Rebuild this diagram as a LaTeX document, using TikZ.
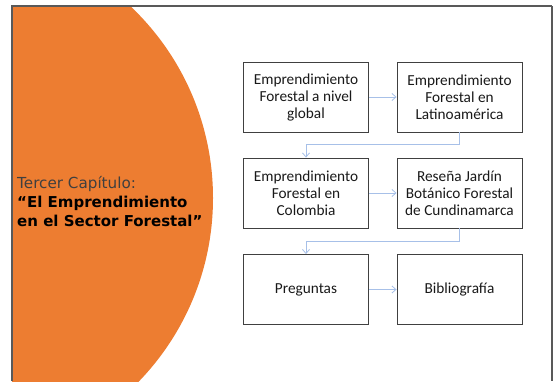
\documentclass[tikz,border=0pt]{standalone}
\usepackage{fontspec}
\setmainfont{Carlito}
\newfontfamily\titlefont{DejaVu Sans}
\usetikzlibrary{arrows.meta}
\definecolor{orng}{HTML}{ED7D31}
\definecolor{frm}{HTML}{595959}
\definecolor{arr}{HTML}{A7C0E8}
\definecolor{ttl}{HTML}{3F3F3F}
\tikzset{
  box/.style={draw=black!75, line width=0.9pt, minimum width=125pt, minimum height=70pt, align=center, inner sep=0pt, font=\fontsize{15.3}{17}\selectfont, text=black!90},
  conn/.style={draw=arr, line width=0.8pt, -{Straight Barb[length=4pt,width=7pt]}}
}
\begin{document}
\begin{tikzpicture}[x=1pt,y=-1pt]
\useasboundingbox (0,0) rectangle (556,381);
\begin{scope}
\clip (12,6) rectangle (552,381);
\fill[orng] (-51,198) circle[radius=264];
\end{scope}
\draw[frm, line width=1.2pt] (12,381) -- (12,6) -- (552,6);
\draw[frm, line width=2pt] (552,6) -- (552,381);
\node[anchor=base west, inner sep=0pt, text=ttl, font=\titlefont\fontsize{15.2}{19}\selectfont] (t1) at (17,188) {Tercer Capítulo:};
\node[anchor=base west, inner sep=0pt, text=black, font=\titlefont\bfseries\fontsize{15}{19}\selectfont] (t2) at (17,207) {“El Emprendimiento};
\node[anchor=base west, inner sep=0pt, text=black, font=\titlefont\bfseries\fontsize{15}{19}\selectfont] (t3) at (17,226) {en el Sector Forestal”};
\node[box] (b1) at (306,97) {Emprendimiento\\Forestal a nivel\\global};
\node[box] (b2) at (459.5,97) {Emprendimiento\\Forestal en\\Latinoamérica};
\node[box] (b3) at (306,193) {Emprendimiento\\Forestal en\\Colombia};
\node[box] (b4) at (459.5,193) {Reseña Jardín\\Botánico Forestal\\de Cundinamarca};
\node[box] (b5) at (306,289.5) {Preguntas};
\node[box] (b6) at (459.5,289.5) {Bibliografía};
\draw[conn] (b1) -- (b2);
\draw[conn] (b3) -- (b4);
\draw[conn] (b5) -- (b6);
\draw[conn] (b2.south) -- ++(0,12) -| (b3.north);
\draw[conn] (b4.south) -- ++(0,13) -| (b5.north);
\end{tikzpicture}
\end{document}
